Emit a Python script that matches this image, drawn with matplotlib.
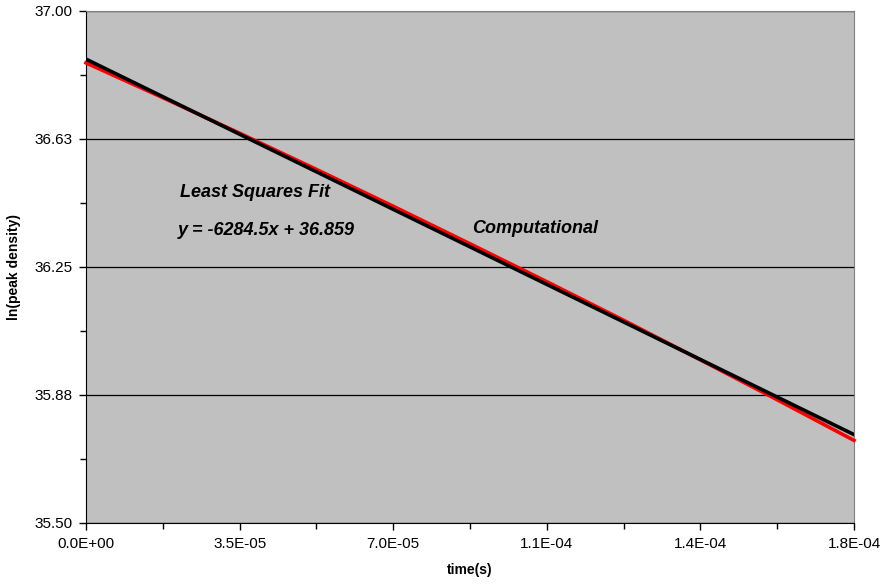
import matplotlib.pyplot as plt

# computational result
time_s = [0.0, 1.75e-5, 3.5e-5, 5.25e-5, 7.0e-5, 8.75e-5, 1.05e-4,
          1.225e-4, 1.4e-4, 1.575e-4, 1.75e-4]
ln_density = [36.848, 36.746, 36.642, 36.536, 36.428, 36.318, 36.207,
              36.094, 35.978, 35.861, 35.742]

# least squares trendline, end points
fit_time = [0.0, 1.75e-4]
fit_value = [36.859, 35.759]

# axis ticks and their labels as printed
x_ticks = [0.0, 3.5e-5, 7.0e-5, 1.05e-4, 1.4e-4, 1.75e-4]
x_labels = ['0.0E+00', '3.5E-05', '7.0E-05', '1.1E-04', '1.4E-04', '1.8E-04']
x_minor = [1.75e-5, 5.25e-5, 8.75e-5, 1.225e-4, 1.575e-4]
y_ticks = [35.5, 35.875, 36.25, 36.625, 37.0]
y_labels = ['35.50', '35.88', '36.25', '36.63', '37.00']
y_minor = [35.6875, 36.0625, 36.4375, 36.8125]

plt.rcParams['font.family'] = ['Liberation Sans', 'DejaVu Sans']

fig = plt.figure(figsize=(8.84, 5.87), dpi=100, facecolor='white')
ax = fig.add_axes([86/884, 64/587, 768/884, 512/587])
ax.set_facecolor('#C0C0C0')

ax.set_xlim(0, 1.75e-4)
ax.set_ylim(35.5, 37.0)

ax.set_xticks(x_ticks, x_labels)
ax.set_xticks(x_minor, minor=True)
ax.set_yticks(y_ticks, y_labels)
ax.set_yticks(y_minor, minor=True)
ax.grid(axis='y', which='major', color='black', linewidth=0.9)
ax.set_axisbelow(True)

ax.plot(time_s, ln_density, color='#FF0000', linewidth=2.6, clip_on=False, zorder=3)
ax.plot(fit_time, fit_value, color='black', linewidth=2.6, zorder=4)

ax.tick_params(which='major', direction='out', length=5, width=1, labelsize=11, pad=5)
ax.tick_params(which='minor', direction='out', length=4, width=1)

for s in ['top', 'right']:
    ax.spines[s].set_color('#808080')
for s in ['left', 'bottom']:
    ax.spines[s].set_color('black')

ax.set_xlabel('time(s)', fontsize=10, fontweight='bold', labelpad=9)
ax.set_ylabel('ln(peak density)', fontsize=10, fontweight='bold', labelpad=9)

ax.text(180/884, 1 - 193/587, 'Least Squares Fit', transform=fig.transFigure,
        fontsize=13, fontweight='bold', fontstyle='italic', va='center', ha='left')
ax.text(178/884, 1 - 230/587, 'y = -6284.5x + 36.859', transform=fig.transFigure,
        fontsize=13, fontweight='bold', fontstyle='italic', va='center', ha='left')
ax.text(472/884, 1 - 228/587, 'Computational', transform=fig.transFigure,
        fontsize=13, fontweight='bold', fontstyle='italic', va='center', ha='left')

fig.savefig('out.png', dpi=100)
